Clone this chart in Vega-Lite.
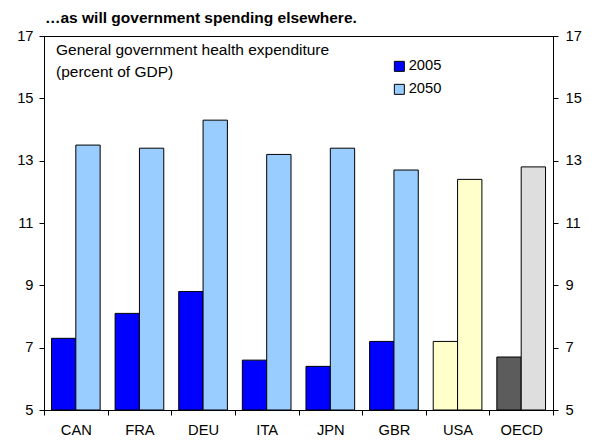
{
  "$schema": "https://vega.github.io/schema/vega-lite/v6.json",
  "width": 509,
  "height": 374,
  "autosize": {"type": "none"},
  "padding": {"left": 44, "top": 36, "right": 42, "bottom": 35},
  "background": "white",
  "config": {
    "font": "Arial, Liberation Sans, sans-serif",
    "view": {"stroke": "black", "strokeWidth": 1},
    "axis": {"labelFontSize": 14.7, "labelColor": "black", "domainColor": "black", "tickColor": "black", "tickSize": 5, "grid": false, "labelFont": "Arial, Liberation Sans, sans-serif"}
  },
  "title": {
    "text": "…as will government spending elsewhere.",
    "anchor": "start",
    "frame": "group",
    "fontSize": 15.5,
    "fontWeight": "bold",
    "color": "black",
    "dx": 1,
    "offset": 2,
    "font": "Arial, Liberation Sans, sans-serif"
  },
  "data": {
    "values": [
      {"country": "CAN", "year": "2005", "value": 7.3},
      {"country": "CAN", "year": "2050", "value": 13.5},
      {"country": "FRA", "year": "2005", "value": 8.1},
      {"country": "FRA", "year": "2050", "value": 13.4},
      {"country": "DEU", "year": "2005", "value": 8.8},
      {"country": "DEU", "year": "2050", "value": 14.3},
      {"country": "ITA", "year": "2005", "value": 6.6},
      {"country": "ITA", "year": "2050", "value": 13.2},
      {"country": "JPN", "year": "2005", "value": 6.4},
      {"country": "JPN", "year": "2050", "value": 13.4},
      {"country": "GBR", "year": "2005", "value": 7.2},
      {"country": "GBR", "year": "2050", "value": 12.7},
      {"country": "USA", "year": "2005", "value": 7.2},
      {"country": "USA", "year": "2050", "value": 12.4},
      {"country": "OECD", "year": "2005", "value": 6.7},
      {"country": "OECD", "year": "2050", "value": 12.8}
    ]
  },
  "layer": [
    {
      "mark": {"type": "bar", "stroke": "black", "strokeWidth": 1},
      "encoding": {
        "x": {
          "field": "country", "type": "nominal", "sort": null,
          "scale": {"paddingInner": 0, "paddingOuter": 0},
          "axis": {"title": null, "labelAngle": 0, "tickBand": "extent", "labelPadding": 7}
        },
        "xOffset": {"field": "year", "type": "nominal", "scale": {"paddingInner": 0, "paddingOuter": 0.307}},
        "y": {
          "field": "value", "type": "quantitative",
          "scale": {"domain": [5, 17], "nice": false, "zero": false},
          "axis": {"title": null, "values": [5, 7, 9, 11, 13, 15, 17], "orient": "left", "labelPadding": 6}
        },
        "y2": {"datum": 5},
        "fill": {
          "field": "year", "type": "nominal",
          "scale": {"domain": ["2005", "2050"], "range": ["#0000FF", "#99CCFF"]},
          "legend": {
            "title": null, "orient": "none", "legendX": 348, "legendY": 23, "padding": 0,
            "symbolType": "square", "symbolSize": 100, "symbolStrokeColor": "black", "symbolStrokeWidth": 1,
            "labelFontSize": 14.7, "labelColor": "black", "labelOffset": 2, "rowPadding": 7,
            "labelFont": "Arial, Liberation Sans, sans-serif"
          },
          "condition": [
            {"test": "datum.country === 'USA'", "value": "#FFFFCC"},
            {"test": "datum.country === 'OECD' && datum.year === '2005'", "value": "#5c5c5c"},
            {"test": "datum.country === 'OECD'", "value": "#dedede"}
          ]
        }
      }
    },
    {
      "data": {"values": [{"label": ["General government health expenditure", "(percent of GDP)"]}]},
      "mark": {"type": "text", "align": "left", "baseline": "alphabetic", "fontSize": 15.5, "lineHeight": 22, "dx": 12, "color": "black"},
      "encoding": {
        "text": {"field": "label"},
        "x": {"datum": "CAN", "type": "nominal", "bandPosition": 0},
        "y": {
          "datum": 16.38, "type": "quantitative",
          "axis": {"title": null, "values": [5, 7, 9, 11, 13, 15, 17], "orient": "right", "labelPadding": 7}
        }
      }
    }
  ],
  "resolve": {"axis": {"y": "independent"}}
}
